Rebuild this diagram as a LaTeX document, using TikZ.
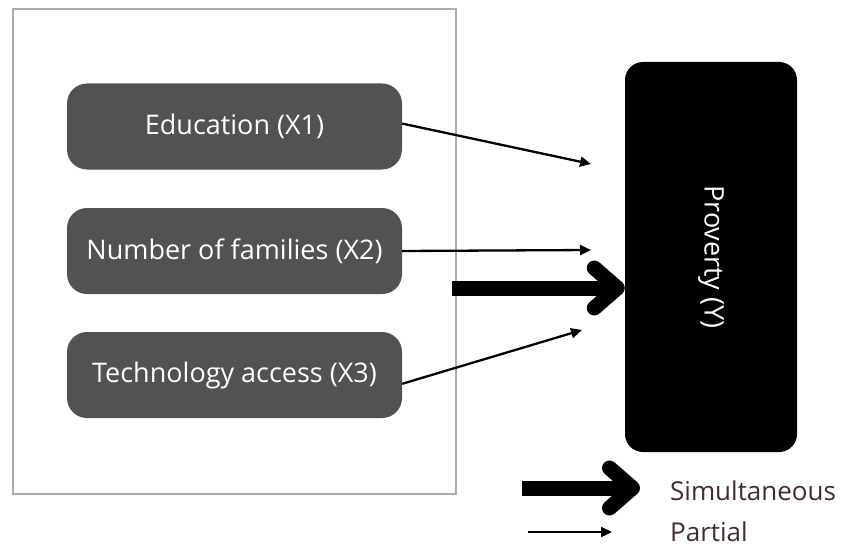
\documentclass[tikz,border=0pt]{standalone}
\usepackage{fontspec}
\setmainfont{Open Sans}
\usetikzlibrary{arrows.meta}
\definecolor{boxgray}{RGB}{82,82,82}
\definecolor{framegray}{RGB}{172,172,172}
\definecolor{legendtext}{RGB}{64,46,46}
\begin{document}
\begin{tikzpicture}
    [   x=1pt,y=-1pt,
        xnode/.style={fill=boxgray,text=white,rounded corners=20pt,minimum width=335pt,minimum height=86pt,font=\fontsize{27}{31}\selectfont},
        ynode/.style={fill=black,text=white,rounded corners=18pt,minimum width=390pt,minimum height=172pt,rotate=-90,font=\fontsize{27}{31}\selectfont},
        lnode/.style={text=legendtext,anchor=west,inner sep=0pt,font=\fontsize{26}{31}\selectfont},
        partarrow/.style={line width=2.3pt,-{Triangle[length=11pt,width=10pt]}},
        simarrow/.style={line width=15pt,-{Straight Barb[round,length=23pt,width=40pt]}},
    ]
        \useasboundingbox (0,0) rectangle (842,548);
        \draw[framegray,line width=2.5pt] (13,9) rectangle (456,494);
        \node[xnode] (edu) at (234.5,126.5) {Education (X1)};
        \node[xnode] (fam) at (234.5,251) {Number of families (X2)};
        \node[xnode] (tech) at (234.5,375) {Technology access (X3)};
        \node[ynode] (pov) at (711,257) {Proverty (Y)};
        \coordinate (e1) at (591,164);
        \coordinate (e2) at (591,250);
        \coordinate (e3) at (582,330);
        \coordinate (s0) at (452,288);
        \draw[partarrow] (edu.1.5) -- (e1);
        \draw[partarrow] (fam.east) -- (e2);
        \draw[partarrow] (tech.-3) -- (e3);
        \draw[simarrow] (s0) -- (pov.south |- s0);
        % legend
        \node[lnode] (lsim) at (670,491) {Simultaneous};
        \node[lnode] (lpart) at (670,532) {Partial};
        \coordinate (ls) at (522,488);
        \coordinate (lp) at (528,532);
        \draw[simarrow] (ls) -- (640,488);
        \draw[partarrow] (lp) -- (612,532);
  \end{tikzpicture}
\end{document}
